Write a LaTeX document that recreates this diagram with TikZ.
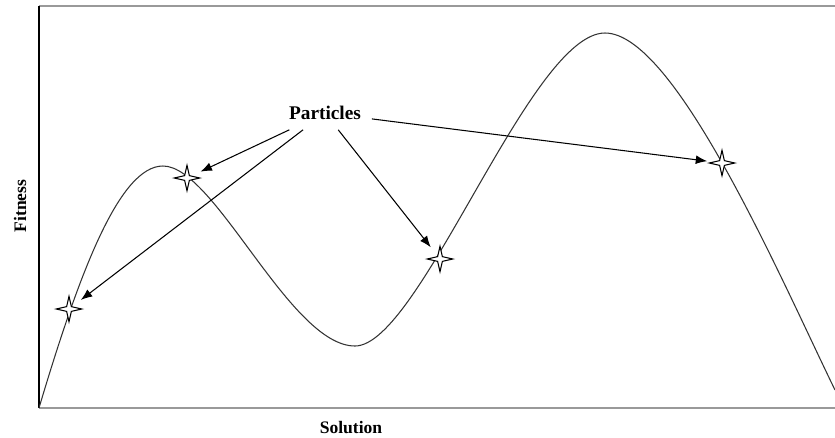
\documentclass[tikz,border=0pt]{standalone}
\usepackage{fontspec}
\setmainfont{Liberation Serif}
\usetikzlibrary{shapes.geometric,arrows.meta}
\tikzset{
  particle/.style={star,star points=4,star point ratio=3.8,minimum size=14.5pt,inner sep=0pt,draw,fill=white,line width=0.6pt},
  pointer/.style={-{Latex[length=6.5pt,width=5pt]},line width=0.6pt,shorten >=8.5pt},
  axislabel/.style={font=\fontsize{10}{12}\selectfont\bfseries}
}

\begin{document}
\begin{tikzpicture}[x=0.02cm,y=-0.02cm]
    \useasboundingbox (0,0) rectangle (835,437);
    % frame
    \draw[gray!80,line width=0.9pt] (39,6) -- (835,6);
    \draw[gray!80,line width=0.9pt] (39,408) -- (835,408);
    \draw[line width=0.9pt] (39,6) -- (39,408);

    % fitness landscape
    \draw[black!80,line width=0.6pt] (39,408) .. controls (80,270) and (120,166) .. (163,166)
      .. controls (215,166) and (290,346) .. (355,346)
      .. controls (420,346) and (530,33) .. (605,33)
      .. controls (675,33) and (780,277) .. (835,390);

    \node[particle] (s1) at (69,309) {};
    \node[particle] (s2) at (187,178) {};
    \node[particle] (s3) at (440,259) {};
    \node[particle] (s4) at (722,163) {};

    \node[font=\fontsize{11}{13}\selectfont\bfseries,inner xsep=6pt,inner ysep=5.5pt] (lbl) at (325,113) {Particles};

    \draw[pointer] (lbl) -- (s1.center);
    \draw[pointer] (lbl) -- (s2.center);
    \draw[pointer] (lbl) -- (s3.center);
    \draw[pointer] (lbl) -- (s4.center);

    \node[axislabel,rotate=90] (fit) at (20,206) {Fitness};
    \node[axislabel] (sol) at (351,428) {Solution};
\end{tikzpicture}
\end{document}
